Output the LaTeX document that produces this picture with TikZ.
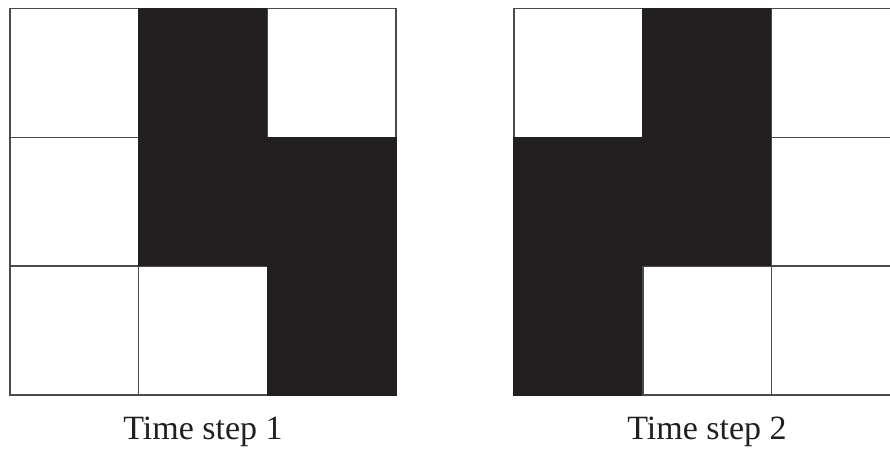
\documentclass[tikz,border=0pt]{standalone}
\usepackage{fontspec}
\setmainfont{Liberation Serif}
\usepackage{xcolor}
\usetikzlibrary{positioning}
\definecolor{inkK}{HTML}{231F20}
\definecolor{lineG}{HTML}{4A4A4A}

\begin{document}
\begin{tikzpicture}[x=0.75pt, y=-0.75pt,
   cell/.style={line width=1.1pt, minimum size=96.5pt,
                inner sep=0pt, outer sep=0pt},
   wh/.style={draw=lineG, fill=white},
   bk/.style={draw=inkK, fill=inkK},
   caption/.style={font=\fontsize{25.5}{30}\selectfont, text=inkK}]
  \clip (0,0) rectangle (890,449);
  \fill[white] (0,0) rectangle (890,449);
  % left grid: time step 1
  \foreach \ca/\cb/\cc [count=\j from 0] in {%
    wh/bk/wh,%
    wh/bk/bk,%
    wh/wh/bk}{%
      \pgfmathsetmacro\yy{73.0+\j*128.8}
      \node[cell, \ca] (la\j) at (74.3,\yy) {};
      \node[cell, \cb] (lb\j) at (203.0,\yy) {};
      \node[cell, \cc] (lc\j) at (331.7,\yy) {};
  }
  % right grid: time step 2
  \foreach \ca/\cb/\cc [count=\j from 0] in {%
    wh/bk/wh,%
    bk/bk/wh,%
    bk/wh/wh}{%
      \pgfmathsetmacro\yy{73.0+\j*128.8}
      \node[cell, \ca] (ra\j) at (578.5,\yy) {};
      \node[cell, \cb] (rb\j) at (707.2,\yy) {};
      \node[cell, \cc] (rc\j) at (835.9,\yy) {};
  }
  % captions
  \node[caption] (t1) at (203,432) {Time step 1};
  \node[caption] (t2) at (707,432) {Time step 2};
\end{tikzpicture}
\end{document}
